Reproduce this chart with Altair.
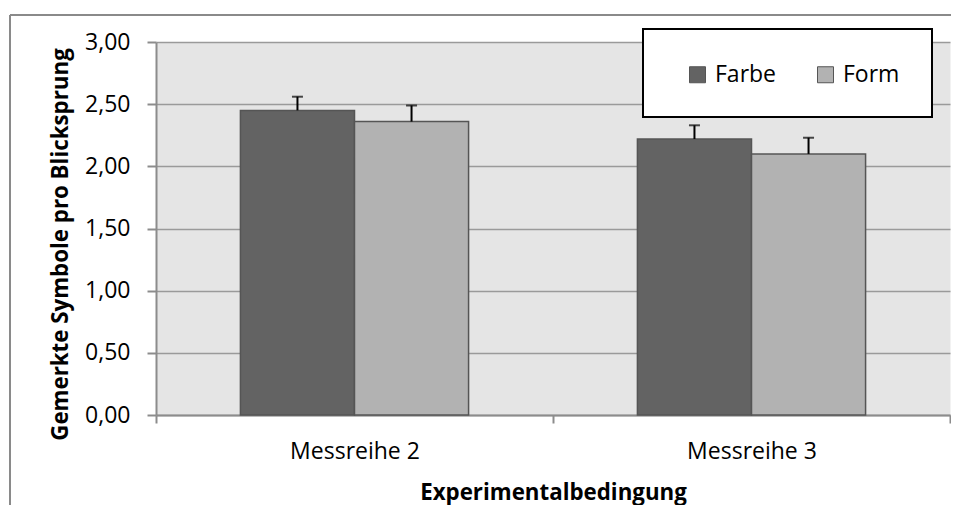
import altair as alt
import pandas as pd

categories = ["Messreihe 2", "Messreihe 3"]
series = ["Farbe", "Form"]
farbe = [2.45, 2.22]
form = [2.36, 2.10]
farbe_upper = [2.56, 2.33]
form_upper = [2.49, 2.23]
y_ticks = [0, 0.5, 1, 1.5, 2, 2.5, 3]
colors = ["#636363", "#b2b2b2"]

rows = []
for i, c in enumerate(categories):
    rows.append({"cat": c, "serie": "Farbe", "value": farbe[i], "upper": farbe_upper[i]})
    rows.append({"cat": c, "serie": "Form", "value": form[i], "upper": form_upper[i]})
df = pd.DataFrame(rows)

FONT = "Open Sans"
GRAY = "#8c8c8c"

x = alt.X(
    "cat:N", sort=categories,
    scale=alt.Scale(paddingInner=0, paddingOuter=0),
    axis=alt.Axis(
        title="Experimentalbedingung", labelAngle=0, tickBand="extent",
        labelFont=FONT, labelFontSize=23, labelColor="black", labelPadding=17,
        tickSize=8, tickColor=GRAY, tickWidth=2, domainColor=GRAY, domainWidth=2,
        titleFont=FONT, titleFontSize=22.3, titleFontWeight="bold", titleColor="black",
        titleX=397, titleY=77, titleBaseline="middle", titleAlign="center",
        grid=False,
    ),
)
xo = alt.XOffset("serie:N", sort=series, scale=alt.Scale(paddingInner=0, paddingOuter=0.74))
y = alt.Y(
    "value:Q",
    scale=alt.Scale(domain=[0, 3], nice=False),
    axis=alt.Axis(
        values=y_ticks,
        labelExpr="replace(format(datum.value, '.2f'), '.', ',')",
        title="Gemerkte Symbole pro Blicksprung",
        titleFont=FONT, titleFontSize=22.3, titleFontWeight="bold", titleColor="black",
        titleX=-96, titleY=202, titleAngle=270, titleBaseline="middle", titleAlign="center",
        labelFont=FONT, labelFontSize=23, labelColor="black", labelPadding=17,
        tickSize=9, tickColor=GRAY, tickWidth=2, domainColor=GRAY, domainWidth=2,
        gridColor="#9a9a9a", gridWidth=1.5,
    ),
)

base = alt.Chart(df)

bars = base.mark_bar(stroke="#555555", strokeWidth=1.5).encode(
    x=x, xOffset=xo, y=y,
    color=alt.Color(
        "serie:N", sort=series,
        scale=alt.Scale(domain=series, range=colors),
        legend=alt.Legend(
            title=None, orient="none", legendX=530, legendY=21, direction="horizontal",
            labelFont=FONT, labelFontSize=23, labelColor="black", labelOffset=6,
            symbolType="square", symbolSize=256, symbolStrokeColor="#555555",
            symbolStrokeWidth=1, columnPadding=37,
        ),
    ),
)

stems = base.mark_rule(color="black", strokeWidth=2).encode(
    x=x, xOffset=xo, y="value:Q", y2="upper:Q"
)
caps = base.mark_tick(color="black", thickness=2, size=11).encode(
    x=x, xOffset=xo, y="upper:Q"
)

one = alt.Chart(pd.DataFrame({"k": [0]}))
legend_box = one.mark_rect(fill="white", stroke="black", strokeWidth=2).encode(
    x=alt.value(487), x2=alt.value(776), y=alt.value(-13), y2=alt.value(75)
)
frame_top = one.mark_rule(color="#8a8a8a", strokeWidth=2).encode(
    x=alt.value(-146), x2=alt.value(805), y=alt.value(-27)
)
frame_left = one.mark_rule(color="#8a8a8a", strokeWidth=2).encode(
    x=alt.value(-146), y=alt.value(-27), y2=alt.value(480)
)

chart = alt.layer(bars, stems, caps, legend_box, frame_top, frame_left).properties(
    width=794, height=373,
    autosize=alt.AutoSizeParams(type="none"),
    padding={"left": 148, "top": 34, "right": 1, "bottom": 90},
    background="white",
).configure_view(stroke="transparent", fill="#e5e5e5")

chart.save("out.html", embed_options={"renderer": "svg", "actions": False})
